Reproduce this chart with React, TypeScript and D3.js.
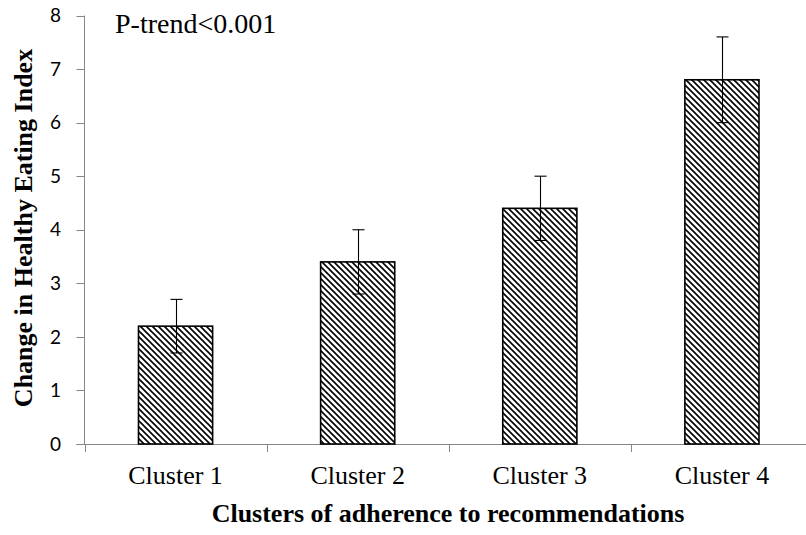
import { useEffect, useRef } from 'react'
import * as d3 from 'd3'

const categories = ['Cluster 1', 'Cluster 2', 'Cluster 3', 'Cluster 4']
const means = [2.2, 3.4, 4.4, 6.8]
const errors = [0.5, 0.6, 0.6, 0.8]
const yTicks = [0, 1, 2, 3, 4, 5, 6, 7, 8]

const W = 806
const H = 535

export default function App() {
  const ref = useRef<SVGSVGElement | null>(null)

  useEffect(() => {
    document.body.style.margin = '0'
    if (!ref.current) {return}
    const svg = d3.select(ref.current)
    svg.selectAll('*').remove()

    const left = 84.5
    const right = 813
    const y = d3.scaleLinear().domain([0, 8]).range([444, 15.5])
    // outer band = one category slot (ticks sit on its edges)
    const slot = d3.scaleBand<string>().domain(categories).range([left, right]).padding(0)
    const bar = d3.scaleBand<string>().domain(categories).range([left, right])
      .paddingInner(0.593).paddingOuter(0.2965)

    const defs = svg.append('defs')
    const pat = defs.append('pattern')
      .attr('id', 'hatch')
      .attr('patternUnits', 'userSpaceOnUse')
      .attr('width', 6).attr('height', 6)
    pat.append('rect').attr('width', 6).attr('height', 6).attr('fill', '#fff')
    pat.append('path')
      .attr('d', 'M0,0L6,6M-1,5L1,7M5,-1L7,1')
      .attr('stroke', '#000').attr('stroke-width', 1.6)

    const axisColor = '#868686'

    // y axis
    svg.append('line')
      .attr('x1', left).attr('x2', left)
      .attr('y1', y(8)).attr('y2', y(0))
      .attr('stroke', axisColor)
    svg.selectAll('line.ytick').data(yTicks).join('line')
      .attr('class', 'ytick')
      .attr('x1', left - 8).attr('x2', left)
      .attr('y1', (d) => Math.round(y(d)) + 0.5).attr('y2', (d) => Math.round(y(d)) + 0.5)
      .attr('stroke', axisColor)
    svg.selectAll('text.ylab').data(yTicks).join('text')
      .attr('class', 'ylab')
      .attr('x', 61).attr('y', (d) => y(d))
      .attr('dy', '0.35em')
      .attr('text-anchor', 'end')
      .attr('font-family', 'Lato, "Open Sans", sans-serif')
      .attr('font-size', 19)
      .attr('fill', '#000')
      .text((d) => d)

    // x axis
    svg.append('line')
      .attr('x1', left - 8).attr('x2', W)
      .attr('y1', 444.5).attr('y2', 444.5)
      .attr('stroke', axisColor)
    const edges = categories.map((c) => slot(c) as number)
    svg.selectAll('line.xtick').data(edges).join('line')
      .attr('class', 'xtick')
      .attr('x1', (d) => Math.round(d) + 0.5).attr('x2', (d) => Math.round(d) + 0.5)
      .attr('y1', 444.5).attr('y2', 452)
      .attr('stroke', axisColor)

    // bars
    const data = categories.map((c, i) => ({ c, m: means[i], e: errors[i] }))
    svg.selectAll('rect.bar').data(data).join('rect')
      .attr('class', 'bar')
      .attr('x', (d) => bar(d.c) as number)
      .attr('width', bar.bandwidth())
      .attr('y', (d) => y(d.m))
      .attr('height', (d) => y(0) - y(d.m))
      .attr('fill', 'url(#hatch)')
      .attr('stroke', '#000')
      .attr('stroke-width', 1.6)

    // error bars
    const cx = (c: string) => Math.round((bar(c) as number) + bar.bandwidth() / 2) + 0.5
    const eb = svg.append('g').attr('stroke', '#000').attr('stroke-width', 1.1)
    eb.selectAll('line.v').data(data).join('line')
      .attr('class', 'v')
      .attr('x1', (d) => cx(d.c)).attr('x2', (d) => cx(d.c))
      .attr('y1', (d) => y(d.m - d.e)).attr('y2', (d) => y(d.m + d.e))
    eb.selectAll('line.top').data(data).join('line')
      .attr('class', 'top')
      .attr('x1', (d) => cx(d.c) - 6).attr('x2', (d) => cx(d.c) + 6)
      .attr('y1', (d) => y(d.m + d.e)).attr('y2', (d) => y(d.m + d.e))
    eb.selectAll('line.bot').data(data).join('line')
      .attr('class', 'bot')
      .attr('x1', (d) => cx(d.c) - 6).attr('x2', (d) => cx(d.c) + 6)
      .attr('y1', (d) => y(d.m - d.e)).attr('y2', (d) => y(d.m - d.e))

    // category labels
    svg.selectAll('text.xlab').data(categories).join('text')
      .attr('class', 'xlab')
      .attr('x', (d) => (bar(d) as number) + bar.bandwidth() / 2)
      .attr('y', 484)
      .attr('text-anchor', 'middle')
      .attr('font-family', '"Liberation Serif", "Times New Roman", serif')
      .attr('font-size', 26)
      .text((d) => d)

    // titles
    svg.append('text')
      .attr('x', 448).attr('y', 522)
      .attr('text-anchor', 'middle')
      .attr('font-family', '"Liberation Serif", "Times New Roman", serif')
      .attr('font-weight', 'bold')
      .attr('font-size', 26)
      .text('Clusters of adherence to recommendations')

    svg.append('text')
      .attr('transform', 'translate(32,228) rotate(-90)')
      .attr('text-anchor', 'middle')
      .attr('font-family', '"Liberation Serif", "Times New Roman", serif')
      .attr('font-weight', 'bold')
      .attr('font-size', 26)
      .text('Change in Healthy Eating Index')

    svg.append('text')
      .attr('x', 115).attr('y', 33)
      .attr('font-family', '"Liberation Serif", "Times New Roman", serif')
      .attr('font-size', 28)
      .text('P-trend<0.001')
  }, [])

  return <svg ref={ref} width={W} height={H} style={{ display: 'block', background: '#fff' }} />
}
